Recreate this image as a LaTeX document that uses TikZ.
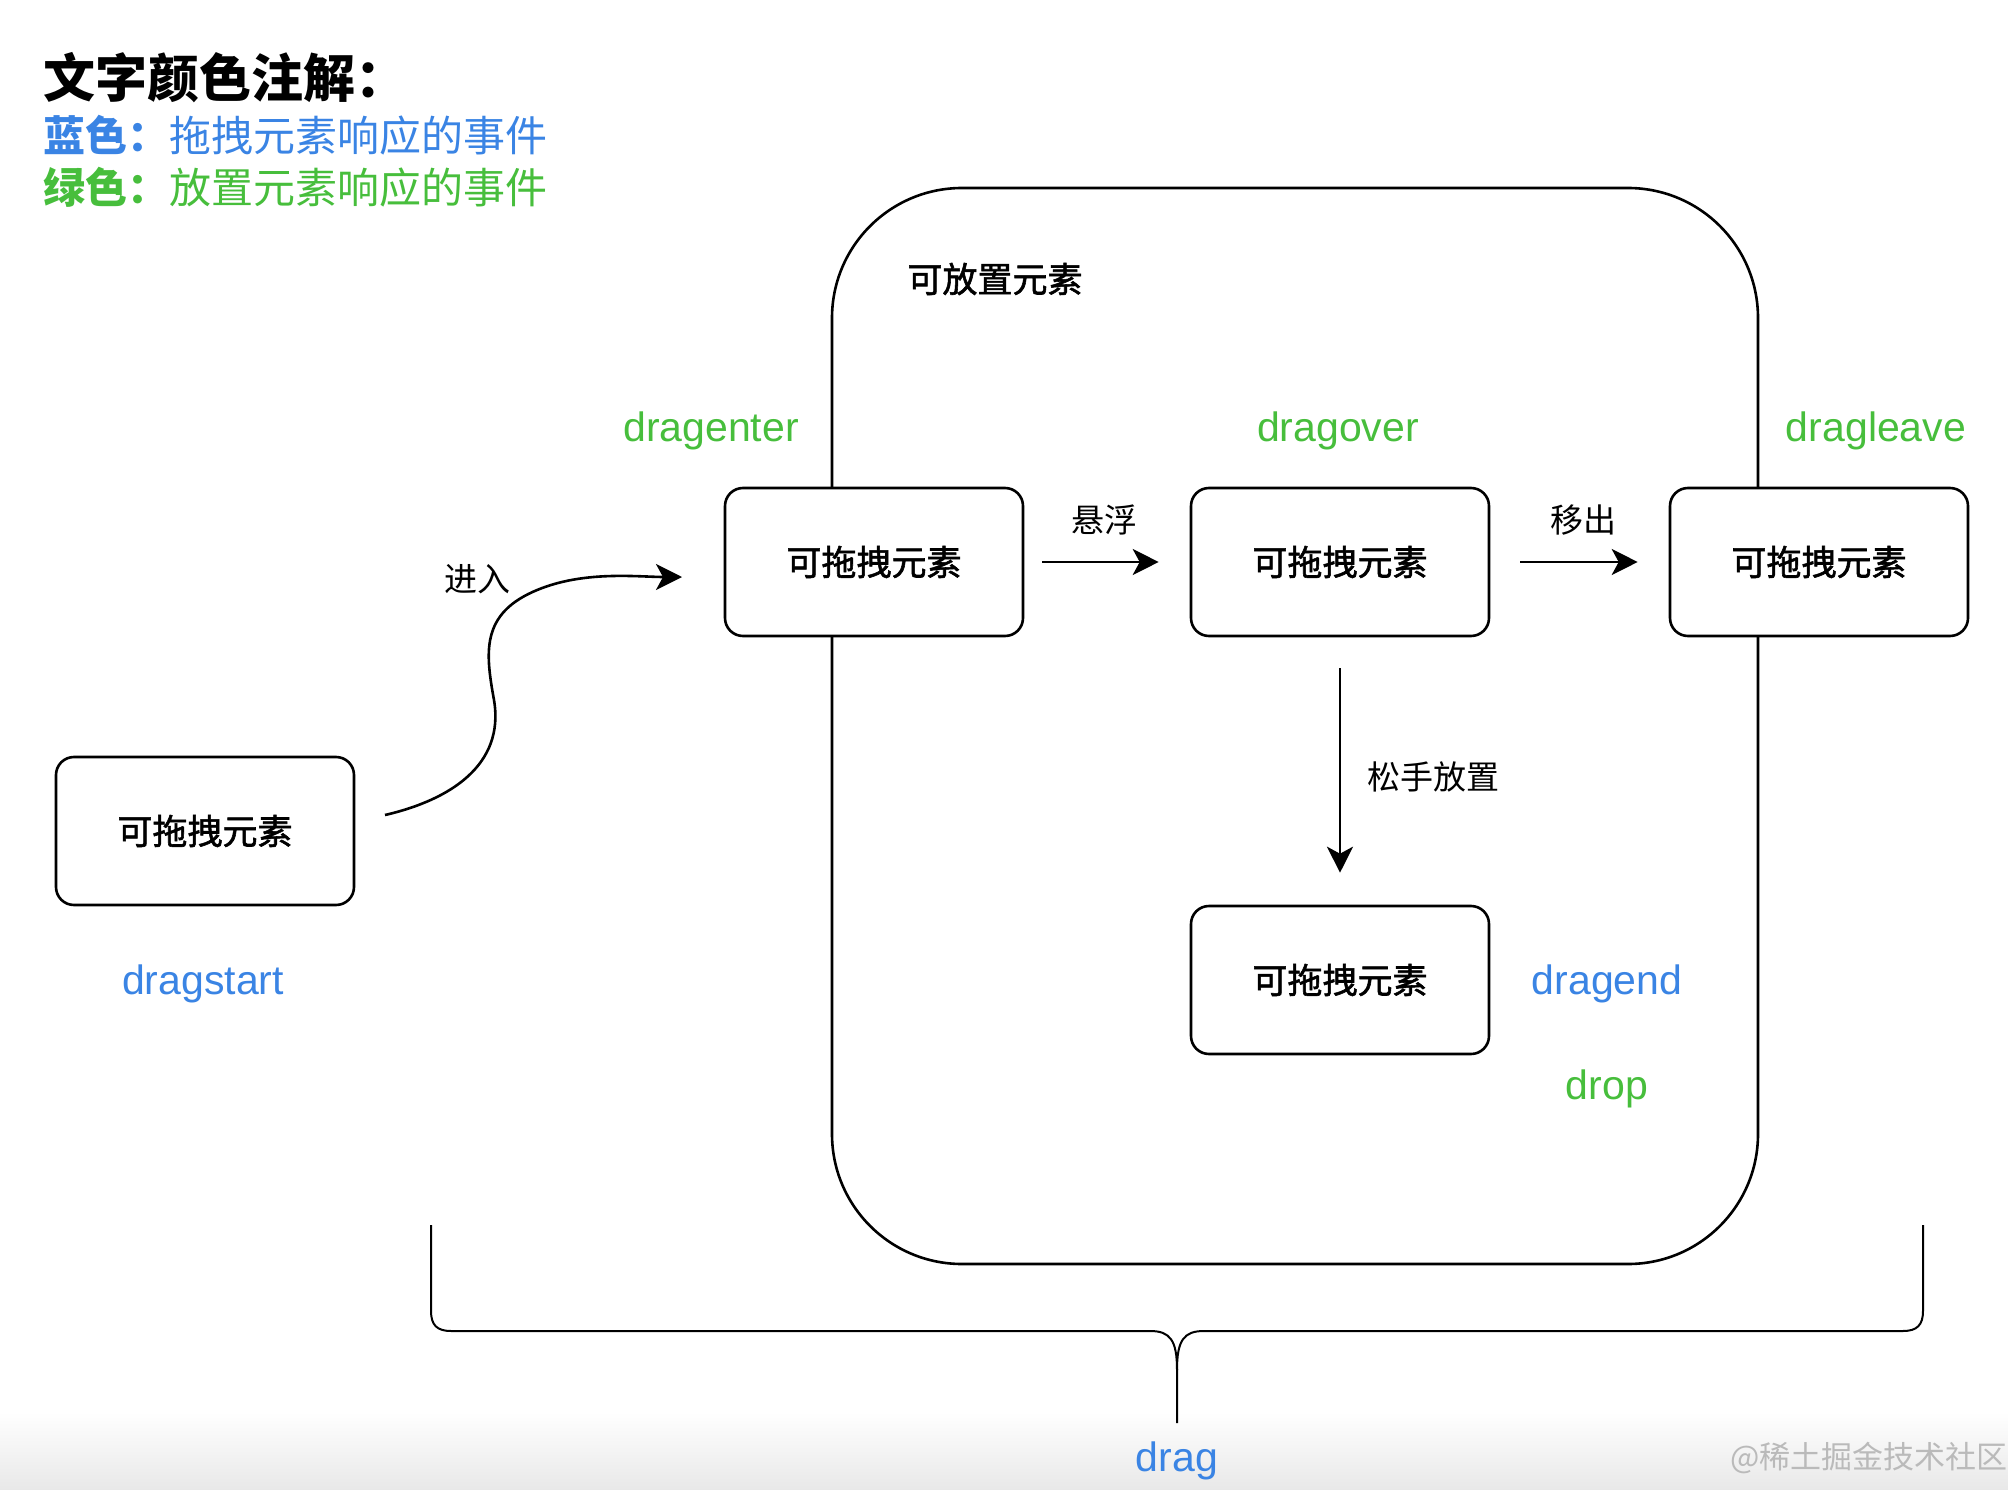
\documentclass[tikz,border=0pt]{standalone}
\usepackage{fontspec}
\setmainfont{Liberation Sans}
\newfontfamily\cjk{Noto Sans CJK SC}
\newfontfamily\cjkm[FakeBold=1.6]{Noto Sans CJK SC}
\usetikzlibrary{arrows.meta,calc}
\definecolor{evgreen}{HTML}{47BE3C}
\definecolor{evblue}{HTML}{3A84E4}
\begin{document}
\begin{tikzpicture}[x=1pt,y=-1pt,
  box/.style={draw, rounded corners=18pt, line width=2.6pt, fill=white,
    minimum width=298pt, minimum height=148pt, inner sep=0pt,
    font=\cjkm\fontsize{35}{40}\selectfont},
  evt/.style={inner sep=0pt, font=\fontsize{41}{48}\selectfont},
  lbl/.style={inner sep=0pt, font=\cjk\fontsize{33}{38}\selectfont},
  arr/.style={line width=2.6pt, -{Stealth[length=26pt,width=26pt,inset=7pt]}},
  legend/.style={inner sep=0pt, anchor=west, font=\cjk\fontsize{42}{48}\selectfont}]
\useasboundingbox (0,0) rectangle (2008,1490);
\shade[top color=white, bottom color=black!9] (0,1412) rectangle (2008,1490);

% legend
\node[legend, font=\cjk\bfseries\fontsize{52}{58}\selectfont] (title) at (43,78) {文字颜色注解：};
\node[legend, text=evblue] (leg1) at (43,135) {\bfseries 蓝色：\mdseries 拖拽元素响应的事件};
\node[legend, text=evgreen] (leg2) at (43,187) {\bfseries 绿色：\mdseries 放置元素响应的事件};

% drop zone
\node[draw, line width=2.6pt, rounded corners=130pt, minimum width=926pt, minimum height=1076pt, inner sep=0pt] (zone) at (1295,726) {};
\node[inner sep=0pt, font=\cjkm\fontsize{35}{40}\selectfont] (zlabel) at (995,279) {可放置元素};

% boxes
\node[box] (S) at (205,831) {可拖拽元素};
\node[box] (A) at (874,562) {可拖拽元素};
\node[box] (B) at (1340,562) {可拖拽元素};
\node[box] (C) at (1819,562) {可拖拽元素};
\node[box] (D) at (1340,980) {可拖拽元素};

% event labels
\node[evt, text=evgreen] (lenter) at (711,431) {dragenter};
\node[evt, text=evgreen] (lover) at (1338,431) {dragover};
\node[evt, text=evgreen] (lleave) at (1876,431) {dragleave};
\node[evt, text=evblue] (lstart) at (203,984) {dragstart};
\node[evt, text=evblue] (lend) at (1607,984) {dragend};
\node[evt, text=evgreen] (ldrop) at (1607,1089) {drop};
\node[evt, text=evblue] (ldrag) at (1177,1461) {drag};

% connectors
\coordinate (c0) at (385,815);
\coordinate (c1) at (682,577);
\draw[arr] (c0) .. controls (450,800) and (505,765) .. (494,700)
  .. controls (485,650) and (480,610) .. (545,587)
  .. controls (590,571) and (640,577) .. (c1);
\node[lbl] (tenter) at (477,579) {进入};

\draw[arr] ([xshift=18pt]A.east) -- ([xshift=-31pt]B.west);
\node[lbl] (thover) at (1104,520) {悬浮};
\draw[arr] ([xshift=30pt]B.east) -- ([xshift=-31pt]C.west);
\node[lbl] (tout) at (1583,520) {移出};
\draw[arr] ([yshift=-31pt]B.south) -- ([yshift=32pt]D.north);
\node[lbl] (tdrop) at (1433,777) {松手放置};

% brace
\coordinate (bl) at (431,1225);
\coordinate (br) at (1923,1225);
\coordinate (bm) at (1177,1423);
\draw[line width=2pt] (bl) -- (431,1311) .. controls (431,1325) and (437,1331) .. (451,1331)
  -- (1150,1331) .. controls (1170,1331) and (1177,1340) .. (1177,1370) -- (bm);
\draw[line width=2pt] (br) -- (1923,1311) .. controls (1923,1325) and (1917,1331) .. (1903,1331)
  -- (1204,1331) .. controls (1184,1331) and (1177,1340) .. (1177,1370);

% watermark
\node[inner sep=0pt, anchor=east, text=black!27, font=\cjk\fontsize{31}{36}\selectfont] (wm) at (2008,1458) {@稀土掘金技术社区};
\end{tikzpicture}
\end{document}
